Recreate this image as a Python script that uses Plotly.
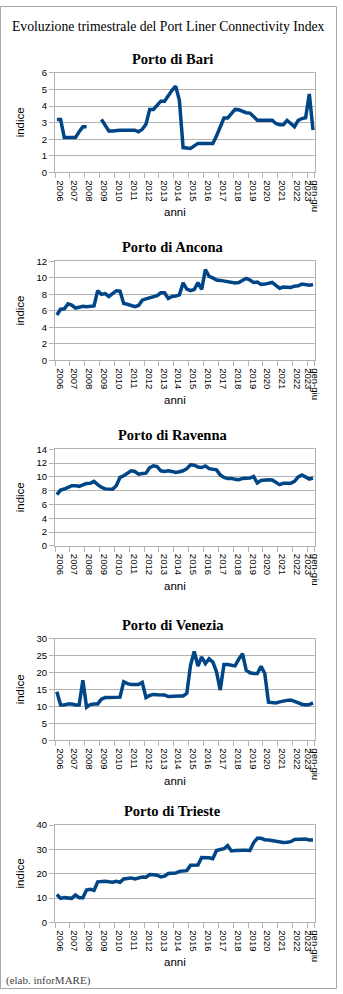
import plotly.graph_objects as go

W, H = 343, 994

# Quarterly observations 2006 Q1 - 2023 Q2
quarters = [f"{y} T{q}" for y in range(2006, 2023) for q in range(1, 5)] + ["2023 T1", "2023 T2"]
year_labels = [str(y) for y in range(2006, 2024)] + ["gen-giu"]

bari = [3.2, 3.2, 2.1, 2.1, 2.1, 2.1, 2.45, 2.75, 2.75, None, None, None,
        3.2, 2.8, 2.5, 2.5, 2.55, 2.55, 2.55, 2.55, 2.55, 2.55,
        2.45, 2.6, 2.9, 3.8, 3.8, 4.05, 4.3, 4.3, 4.65, 4.95, 5.2, 4.35,
        1.5, 1.45, 1.45, 1.6, 1.75, 1.75, 1.75, 1.75, 1.75, 2.2,
        2.7, 3.28, 3.28, 3.55, 3.8, 3.78, 3.7, 3.6, 3.58, 3.35,
        3.15, 3.15, 3.15, 3.15, 3.15, 2.95, 2.88, 2.88, 3.14, 2.95,
        2.75, 3.14, 3.25, 3.3, 4.73, 2.55]

ancona = [5.5, 6.2, 6.25, 6.85, 6.7, 6.35, 6.45, 6.55, 6.5, 6.55, 6.6, 8.45,
          8.0, 8.1, 7.75, 8.1, 8.45, 8.4, 6.9, 6.8, 6.65, 6.5, 6.65, 7.3,
          7.45, 7.6, 7.7, 7.85, 8.2, 8.2, 7.5, 7.75, 7.8, 7.95, 9.4, 8.65,
          8.45, 8.6, 9.45, 8.6, 11.0, 10.2, 10.0, 9.75, 9.7, 9.6, 9.55, 9.45,
          9.4, 9.45, 9.7, 9.95, 9.75, 9.45, 9.5, 9.2, 9.25, 9.3, 9.45, 9.1,
          8.75, 8.9, 8.9, 8.85, 9.0, 9.05, 9.25, 9.15, 9.1, 9.2]

ravenna = [7.45, 8.1, 8.25, 8.5, 8.74, 8.74, 8.64, 8.85, 9.05, 9.07, 9.36, 8.9,
           8.5, 8.27, 8.25, 8.21, 8.74, 9.93, 10.17, 10.55, 10.89, 10.79, 10.41, 10.5,
           10.55, 11.36, 11.6, 11.5, 10.89, 10.79, 10.89, 10.8, 10.65, 10.75, 10.89, 11.2,
           11.75, 11.7, 11.45, 11.36, 11.6, 11.2, 11.13, 11.03, 10.3, 9.93, 9.79, 9.79,
           9.65, 9.6, 9.79, 9.79, 9.84, 10.07, 9.12, 9.5, 9.6, 9.6, 9.55, 9.2,
           8.88, 9.07, 9.07, 9.07, 9.36, 10.0, 10.27, 9.95, 9.7, 9.84]

venezia = [14.4, 10.5, 10.5, 10.8, 10.8, 10.5, 10.5, 17.8, 9.85, 10.6, 10.8, 10.8,
           12.2, 12.68, 12.68, 12.7, 12.7, 12.8, 17.35, 16.8, 16.56, 16.56, 16.56, 17.15,
           12.68, 13.3, 13.6, 13.5, 13.44, 13.44, 12.97, 13.1, 13.15, 13.15, 13.15, 13.93,
           22.2, 26.3, 22.0, 24.66, 22.7, 24.16, 23.2, 20.27, 14.9, 22.41, 22.41, 22.2,
           22.03, 24.0, 25.62, 20.74, 20.0, 19.78, 19.78, 21.91, 19.78, 11.3, 11.2, 11.1,
           11.4, 11.69, 11.85, 11.98, 11.51, 11.0, 10.72, 10.52, 10.6, 11.1]

trieste = [11.5, 9.9, 10.2, 10.2, 9.9, 11.3, 10.2, 10.2, 13.3, 13.6, 13.2, 16.7,
           16.9, 16.95, 16.7, 16.5, 16.95, 16.5, 17.9, 18.2, 18.3, 17.9, 18.3, 18.7,
           18.6, 19.7, 19.6, 19.4, 18.7, 19.0, 20.1, 20.2, 20.3, 21.0, 21.2, 21.3,
           23.5, 23.55, 23.6, 26.7, 26.7, 26.6, 26.2, 29.6, 30.0, 30.3, 31.6, 29.4,
           29.6, 29.8, 29.7, 29.65, 29.6, 32.8, 34.6, 34.6, 34.0, 33.9, 33.6, 33.3,
           32.9, 32.9, 33.0, 33.2, 34.1, 34.2, 34.3, 34.3, 33.9, 33.9]

ports = ["Porto di Bari", "Porto di Ancona", "Porto di Ravenna", "Porto di Venezia", "Porto di Trieste"]
series = [bari, ancona, ravenna, venezia, trieste]
y_max = [6, 12, 14, 30, 40]
y_step = [1, 2, 2, 5, 10]

# panel geometry in pixels (top, bottom of each plotting area)
tops = [67.7, 258.3, 448.3, 640.0, 828.3]
bottoms = [168.3, 358.3, 546.0, 742.7, 926.7]
x_left, x_right = 56.0, 320.5

GRID = "#b3b3b3"
LINE = "#004586"
SANS = "Liberation Sans, Arial, sans-serif"
SERIF = "Liberation Serif, Times New Roman, serif"


def py(px):
    return 1 - px / H


def px_x(px):
    return px / W


n_q = len(quarters)
xs = list(range(n_q))
boundaries = [-0.5] + [4 * k - 0.5 for k in range(1, 18)] + [n_q - 0.5]
# yearly labels sit on each year's first quarters; the half-year label closes the axis
label_pos = [4 * k + 0.75 for k in range(17)] + [n_q - 2.35, n_q - 0.5]

fig = go.Figure()
annotations = []

for n, (name, vals) in enumerate(zip(ports, series)):
    sfx = "" if n == 0 else str(n + 1)
    fig.add_trace(go.Scatter(
        x=xs, y=vals, mode="lines", name=name,
        line=dict(color=LINE, width=3.5),
        xaxis="x" + sfx, yaxis="y" + sfx,
        connectgaps=False, showlegend=False,
        customdata=quarters, hovertemplate="%{customdata}: %{y}<extra></extra>",
    ))
    dom_y = [py(bottoms[n]), py(tops[n])]
    fig.layout["xaxis" + sfx] = dict(
        domain=[px_x(x_left), px_x(x_right)], anchor="y" + sfx,
        range=[-0.5, n_q - 0.5],
        showgrid=False, zeroline=False,
        showline=True, linecolor=GRID, linewidth=1, mirror=True,
        tickmode="array", tickvals=label_pos, ticktext=year_labels,
        ticks="", tickangle=90, ticklabelstandoff=5,
        tickfont=dict(family=SANS, size=9.5, color="#000000"),
        minor=dict(tickmode="array", tickvals=boundaries, ticks="outside",
                   ticklen=5, tickcolor=GRID, tickwidth=1, showgrid=False),
    )
    fig.layout["yaxis" + sfx] = dict(
        domain=dom_y, anchor="x" + sfx,
        range=[0, y_max[n]], dtick=y_step[n], tick0=0,
        showgrid=True, gridcolor=GRID, gridwidth=1, zeroline=False,
        showline=True, linecolor=GRID, linewidth=1, mirror=True,
        ticks="outside", ticklen=5, tickcolor=GRID,
        tickfont=dict(family=SANS, size=9.5, color="#000000"),
    )
    # panel title
    annotations.append(dict(
        text=f"<b>{name}</b>", x=px_x(176), y=py(tops[n] - 14.5),
        xref="paper", yref="paper", xanchor="center", yanchor="middle",
        showarrow=False, font=dict(family=SERIF, size=14.5, color="#000000"),
    ))
    # y axis title
    annotations.append(dict(
        text="indice", x=px_x(20), y=py((tops[n] + bottoms[n]) / 2),
        xref="paper", yref="paper", xanchor="center", yanchor="middle",
        textangle=-90, showarrow=False,
        font=dict(family=SANS, size=11.5, color="#000000"),
    ))
    # x axis title
    annotations.append(dict(
        text="anni", x=px_x(178), y=py(bottoms[n] + 40.5),
        xref="paper", yref="paper", xanchor="center", yanchor="middle",
        showarrow=False, font=dict(family=SANS, size=11.5, color="#000000"),
    ))

annotations.append(dict(
    text="Evoluzione trimestrale del Port Liner Connectivity Index",
    x=px_x(171), y=py(21), xref="paper", yref="paper",
    xanchor="center", yanchor="middle", showarrow=False,
    font=dict(family=SERIF, size=13.7, color="#000000"),
))
annotations.append(dict(
    text="(elab. inforMARE)", x=px_x(4), y=py(985),
    xref="paper", yref="paper", xanchor="left", yanchor="middle",
    showarrow=False, font=dict(family=SERIF, size=11, color="#444444"),
))

fig.update_layout(
    width=W, height=H,
    margin=dict(l=0, r=0, t=0, b=0),
    paper_bgcolor="#ffffff", plot_bgcolor="#ffffff",
    annotations=annotations,
    shapes=[dict(type="rect", xref="paper", yref="paper",
                 x0=0.5 / W, x1=1 - 0.5 / W, y0=0.5 / H, y1=1 - 0.5 / H,
                 line=dict(color="#a6a6a6", width=1), layer="above")],
)

fig.write_html("out.html")
